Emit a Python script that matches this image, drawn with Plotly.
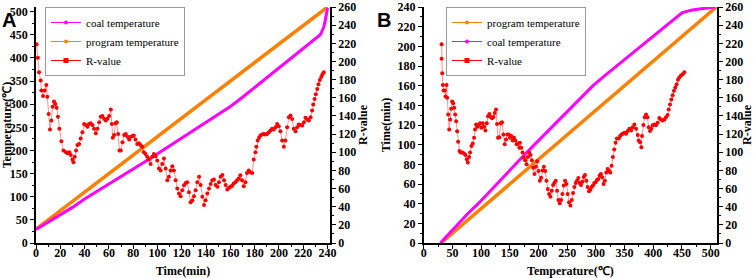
import plotly.graph_objects as go

# ---------------- data ----------------
# coal temperature (deg C) vs time (min)
time_min = [0, 10, 20, 30, 40, 50, 60, 70, 80, 90, 100, 110, 120, 130, 140, 150, 160,
            170, 180, 190, 200, 210, 220, 230, 234, 235, 236, 237, 238, 239, 240]
coal_temp = [29, 45, 61, 77, 95, 111, 127, 143, 159, 176, 193, 210, 226, 243, 260, 277, 295,
             315, 336, 358, 379, 400, 421, 442, 450, 455, 460, 468, 480, 493, 508]

# program temperature (deg C) vs time (min)
prog_time = [0, 20, 40, 60, 80, 100, 120, 140, 160, 180, 200, 220, 240]
prog_temp = [30, 70, 110, 150, 190, 230, 270, 310, 350, 390, 430, 470, 510]

# panel A: R-value vs time (min)
rA_time = [0.5, 1.6, 2.5, 3.9, 4.4, 5.8, 7.1, 8.5, 9.3, 10.4, 11.5, 12.6, 13.7, 14.8, 15.9, 17.0,
           18.1, 19.2, 20.9, 22.6, 24.6, 26.0, 27.5, 28.6, 30.0, 30.8, 31.9, 33.0, 34.1, 35.5,
           36.8, 38.2, 39.6, 41.0, 42.4, 43.7, 45.0, 46.5, 47.8, 49.2, 50.6, 52.0, 53.3, 54.7,
           56.1, 57.4, 58.8, 60.2, 61.6, 62.4, 63.2, 64.3, 65.4, 66.5, 67.6, 68.7, 69.8, 71.2,
           72.6, 73.9, 75.3, 76.7, 78.1, 79.5, 80.5, 81.9, 83.3, 84.7, 86.0, 87.4, 88.8, 90.2,
           91.5, 92.9, 94.3, 95.7, 97.0, 98.4, 99.8, 101.2, 102.6, 103.9, 105.3, 106.7, 108.1,
           109.4, 110.8, 112.2, 113.5, 114.9, 116.3, 117.7, 119.0, 120.4, 121.8, 123.2, 124.5,
           125.9, 127.3, 128.7, 130.0, 131.4, 132.8, 134.2, 135.5, 136.9, 138.3, 139.6, 141.0,
           142.4, 143.8, 145.1, 146.5, 147.9, 149.3, 150.6, 152.0, 153.4, 154.8, 156.1, 157.5,
           158.9, 160.2, 161.4, 162.7, 164.1, 165.5, 166.9, 168.2, 169.6, 171.0, 172.4, 173.7,
           175.1, 176.5, 177.9, 179.2, 180.6, 181.4, 182.5, 183.6, 184.7, 186.1, 187.5, 188.8,
           190.2, 191.6, 193.0, 194.3, 195.7, 197.1, 198.5, 199.8, 201.2, 202.6, 204.0, 205.3,
           206.7, 208.1, 209.5, 210.8, 212.2, 213.6, 215.0, 216.3, 217.7, 219.1, 220.5, 221.8,
           223.2, 224.6, 226.0, 227.3, 228.2, 229.3, 230.3, 231.5, 232.5, 233.6, 234.8, 235.8,
           236.9]
rA_value = [219, 204, 188, 179, 168, 162, 168, 174, 161, 142, 125, 135, 150, 156, 153, 149,
            139, 126, 112, 102, 100, 99, 100, 97, 92, 89, 95, 102, 108, 109,
            115, 122, 131, 130, 128, 131, 132, 130, 126, 121, 126, 133, 139, 140,
            137, 135, 137, 140, 147, 131, 116, 119, 132, 133, 120, 102, 102, 111,
            119, 120, 117, 114, 117, 118, 118.5, 114, 109, 110, 108, 106, 100, 98,
            95, 92, 87, 95, 98, 95.5, 91, 82, 80, 87, 93, 82, 69,
            73, 80, 84.5, 80, 69, 60, 54.5, 51.6, 58, 63.6, 66, 67,
            56, 45, 47, 51.6, 58, 67, 73, 64, 51, 42, 47, 54.5,
            60, 65, 69, 70, 64, 62, 67, 73, 75, 69, 64, 59,
            61, 62, 63, 65.5, 67, 69, 71, 74.6, 69, 62.6, 67, 77,
            80, 78, 77, 92, 100, 106, 113, 116, 118.5, 119.5, 120, 119.5,
            120, 122, 124, 126, 125, 127.6, 131, 128.5, 123, 113, 106, 113,
            127.6, 138.6, 140.4, 136.5, 126, 123, 127.6, 130.6, 130, 129.5, 133, 138,
            136, 135, 138.6, 146, 152.5, 158.7, 164, 169.7, 175, 179.6, 183, 186,
            188]

# panel B: R-value vs coal temperature (deg C)
rB_temp = [31.2, 31.2, 32.3, 33.4, 34.6, 36.9, 38.0, 39.8, 40.9, 42.7, 44.4, 46.1, 47.9, 49.6,
           51.4, 53.1, 54.8, 56.6, 58.3, 60.0, 62.3, 64.6, 67.5, 70.4, 72.8, 75.1, 76.8, 79.1,
           80.8, 83.2, 85.5, 87.8, 89.5, 91.3, 93.6, 95.9, 98.2, 100.5, 102.8, 105.2, 107.5,
           109.8, 112.1, 114.4, 116.8, 119.1, 121.4, 123.7, 126.0, 127.8, 129.5, 131.8, 134.1,
           136.5, 138.8, 141.1, 143.4, 145.7, 148.1, 150.4, 152.7, 155.0, 157.3, 159.7, 162.0,
           164.3, 166.6, 167.6, 169.9, 172.2, 174.5, 176.8, 179.2, 181.5, 183.8, 186.1,
           188.4, 190.7, 193.0, 195.4, 197.7, 200.0, 202.3, 204.6, 206.9, 209.3, 211.6, 213.9,
           216.2, 218.5, 220.8, 223.1, 225.5, 227.8, 230.1, 232.4, 234.7, 237.0, 239.4, 241.7,
           244.0, 246.3, 248.6, 250.9, 253.2, 255.6, 257.9, 260.2, 262.5, 264.8, 267.1, 269.4,
           271.8, 274.1, 276.4, 278.7, 281.0, 283.3, 285.6, 288.0, 290.3, 292.6, 294.9, 297.2,
           299.5, 301.8, 304.2, 306.5, 308.8, 311.1, 313.4, 315.7, 318.1, 320.4, 322.7, 325.0,
           327.3, 329.6, 331.9, 334.3, 336.6, 339.9, 342.2, 344.5, 346.8, 349.7, 352.6, 355.5,
           358.4, 361.3, 364.2, 367.1, 370.0, 372.9, 374.6, 376.9, 379.2, 380.4, 382.7, 385.0,
           387.4, 389.7, 392.0, 394.3, 396.6, 398.9, 401.8, 404.7, 407.6, 410.5, 413.4, 416.3,
           419.2, 422.1, 425.0, 426.8, 429.1, 431.4, 433.7, 436.0, 438.3, 440.7, 443.0, 445.3,
           448.2, 451.1, 454.0]
rB_value = [219, 203, 187, 174, 168, 168, 161.5, 174, 160, 141.5, 125, 136, 148, 156,
            154, 149, 141.5, 134, 123, 111.6, 101.4, 99.6, 99.6, 98.5, 97, 92.3, 88.6, 94.8,
            99.6, 107, 109.5, 116, 125, 130.6, 128, 130, 132, 127, 132, 128, 124,
            132, 139.7, 142, 138.8, 137.5, 138.8, 143.3, 147, 131, 116, 116.6, 132,
            133, 119.6, 108.7, 114, 119.6, 119.6, 116, 117.8, 113, 116, 112.8, 108.7,
            109.5, 105, 110.5, 105, 99.6, 94, 91.2, 86.8, 94.8, 99.6, 97,
            91.2, 83, 76, 84, 90, 79.4, 68.6, 72, 80, 84, 79.4, 68.6,
            59.5, 54, 51, 57.6, 64, 66.4, 68.6, 57.6, 47.5, 43.8, 47.5, 54,
            63.4, 68.6, 65, 54, 44.8, 41.2, 47.5, 55, 61.6, 66, 68.6, 71.5,
            66, 64, 67.6, 72.8, 75, 68.6, 61.6, 57, 58.6, 61.6, 63.4, 66,
            67, 69.5, 70.6, 74.3, 76, 72.5, 65, 68.6, 77.8, 81.4, 79.6, 77.8,
            85, 94.8, 103, 110.5, 115, 115, 117.8, 119.6, 120.3, 121.4, 120.3, 123.3,
            126, 124, 127.6, 130.6, 126, 119, 112.8, 111, 105.5, 118, 130, 138.6,
            141.6, 138.6, 127.6, 123.3, 126, 129.6, 130.6, 129.6, 132.4, 137.8, 136, 135,
            136, 138.6, 141, 147, 152.5, 158, 162.7, 167.6, 171.4, 175, 179.8, 182.3,
            184.5, 186, 188]

# ---------------- styling ----------------
MAGENTA = "#ff00ff"
ORANGE = "#ff8000"
RED = "#ff0000"
SERIF = "Liberation Serif, Times New Roman, serif"
tickfont = dict(family=SERIF, size=12, color="black", weight="bold")
titlefont = dict(family=SERIF, size=12, color="black", weight="bold")

fig = go.Figure()

# ---- panel A ----
fig.add_trace(go.Scatter(x=prog_time, y=prog_temp, mode="lines", line=dict(color=ORANGE, width=3.5),
                         xaxis="x", yaxis="y", showlegend=False))
fig.add_trace(go.Scatter(x=time_min, y=coal_temp, mode="lines", line=dict(color=MAGENTA, width=3),
                         xaxis="x", yaxis="y", showlegend=False))
fig.add_trace(go.Scatter(x=rA_time, y=rA_value, mode="lines+markers",
                         line=dict(color="rgba(255,60,60,0.7)", width=0.8),
                         marker=dict(color=RED, size=4), xaxis="x", yaxis="y2", showlegend=False))
# legend entries A
fig.add_trace(go.Scatter(x=[None], y=[None], mode="lines+markers", name="coal temperature",
                         line=dict(color=MAGENTA, width=1), marker=dict(color=MAGENTA, size=4),
                         xaxis="x", yaxis="y", legend="legend"))
fig.add_trace(go.Scatter(x=[None], y=[None], mode="lines+markers", name="program temperature",
                         line=dict(color=ORANGE, width=1), marker=dict(color=ORANGE, size=4),
                         xaxis="x", yaxis="y", legend="legend"))
fig.add_trace(go.Scatter(x=[None], y=[None], mode="lines+markers", name="R-value",
                         line=dict(color=RED, width=1), marker=dict(color=RED, size=5, symbol="square"),
                         xaxis="x", yaxis="y", legend="legend"))

# ---- panel B ----
fig.add_trace(go.Scatter(x=prog_temp, y=prog_time, mode="lines", line=dict(color=ORANGE, width=3.5),
                         xaxis="x2", yaxis="y3", showlegend=False))
fig.add_trace(go.Scatter(x=coal_temp, y=time_min, mode="lines", line=dict(color=MAGENTA, width=3),
                         xaxis="x2", yaxis="y3", showlegend=False))
fig.add_trace(go.Scatter(x=rB_temp, y=rB_value, mode="lines+markers",
                         line=dict(color="rgba(255,60,60,0.7)", width=0.8),
                         marker=dict(color=RED, size=4), xaxis="x2", yaxis="y4", showlegend=False))
fig.add_trace(go.Scatter(x=[None], y=[None], mode="lines+markers", name="program temperature",
                         line=dict(color=ORANGE, width=1), marker=dict(color=ORANGE, size=4),
                         xaxis="x2", yaxis="y3", legend="legend2"))
fig.add_trace(go.Scatter(x=[None], y=[None], mode="lines+markers", name="coal temperature",
                         line=dict(color=MAGENTA, width=1), marker=dict(color=MAGENTA, size=4),
                         xaxis="x2", yaxis="y3", legend="legend2"))
fig.add_trace(go.Scatter(x=[None], y=[None], mode="lines+markers", name="R-value",
                         line=dict(color=RED, width=1), marker=dict(color=RED, size=5, symbol="square"),
                         xaxis="x2", yaxis="y3", legend="legend2"))


def ax(**kw):
    base = dict(showline=True, linecolor="black", linewidth=1.5, ticks="outside", ticklen=4,
                tickwidth=1.2, tickcolor="black", showgrid=False, zeroline=False,
                tickfont=tickfont, fixedrange=True, automargin=False,
                ticklabeloverflow="allow")
    base.update(kw)
    return base


dA = [0, 294 / 681]
dB = [387.7 / 681, 1]

legend_common = dict(font=dict(family=SERIF, size=11, color="black"), bgcolor="white",
                     bordercolor="#999", borderwidth=1, itemwidth=30, traceorder="normal",
                     xanchor="left", yanchor="top", tracegroupgap=0)

fig.update_layout(
    template="none",
    width=754, height=278,
    margin=dict(l=36, r=37, t=7, b=35, autoexpand=False),
    paper_bgcolor="white", plot_bgcolor="white",
    xaxis=ax(domain=dA, anchor="y", range=[0, 242], dtick=20, tick0=0, ticklabelstandoff=-6,
             minor=dict(dtick=10, ticks="outside", ticklen=2, tickcolor="black"),
             title=dict(text="Time(min)", font=titlefont, standoff=11)),
    yaxis=ax(domain=[0, 1], anchor="x", range=[0, 510], dtick=50, tick0=0,
             minor=dict(dtick=25, ticks="outside", ticklen=2, tickcolor="black"),
             title=dict(text="Temperature(℃)", font=titlefont, standoff=2)),
    yaxis2=ax(anchor="x", overlaying="y", side="right", range=[0, 260], dtick=20, tick0=0,
              minor=dict(dtick=10, ticks="outside", ticklen=2, tickcolor="black"),
              title=dict(text="R-value", font=titlefont, standoff=2)),
    xaxis2=ax(domain=dB, anchor="y3", range=[0, 511], dtick=50, tick0=0, ticklabelstandoff=-6,
              minor=dict(dtick=25, ticks="outside", ticklen=2, tickcolor="black"),
              title=dict(text="Temperature(℃)", font=titlefont, standoff=11)),
    yaxis3=ax(domain=[0, 1], anchor="x2", range=[0, 240], dtick=20, tick0=0,
              minor=dict(dtick=10, ticks="outside", ticklen=2, tickcolor="black"),
              title=dict(text="Time(min)", font=titlefont, standoff=4)),
    yaxis4=ax(anchor="x2", overlaying="y3", side="right", range=[0, 260], dtick=20, tick0=0,
              minor=dict(dtick=10, ticks="outside", ticklen=2, tickcolor="black"),
              title=dict(text="R-value", font=titlefont, standoff=4)),
    legend=dict(x=9 / 681, y=1.0, **legend_common),
    legend2=dict(x=410 / 681, y=1.0, **legend_common),
    annotations=[
        dict(text="A", x=-27 / 681, y=0.945, xref="paper", yref="paper", showarrow=False,
             xanchor="center", yanchor="middle",
             font=dict(family="Liberation Sans, Arial, sans-serif", size=20, color="black", weight="bold")),
        dict(text="B", x=348 / 681, y=0.945, xref="paper", yref="paper", showarrow=False,
             xanchor="center", yanchor="middle",
             font=dict(family="Liberation Sans, Arial, sans-serif", size=20, color="black", weight="bold")),
    ],
)

fig.write_html("out.html", config={"displayModeBar": False},
               post_script="document.body.style.margin='0px';")
